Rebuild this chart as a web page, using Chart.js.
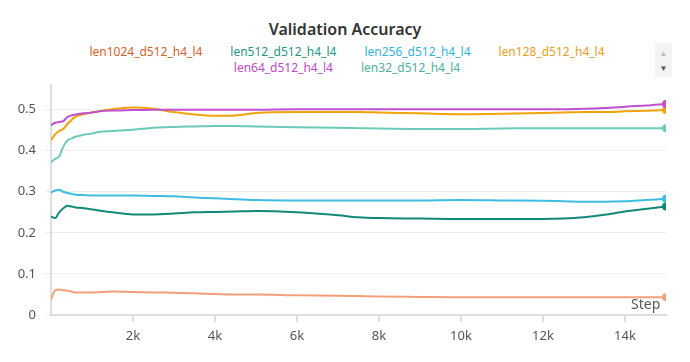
<!DOCTYPE html>
<html>
<head>
<meta charset="utf-8">
<script src="https://cdn.jsdelivr.net/npm/chart.js@4.4.1/dist/chart.umd.min.js"></script>
<style>
  html, body { margin: 0; padding: 0; background: #fff; }
  body { width: 690px; height: 362px; position: relative; overflow: hidden; font-family: "Noto Sans", sans-serif; }
  #title { position: absolute; top: 18px; left: 0; width: 690px; text-align: center; font-size: 16px; font-weight: 600; color: #333; }
  .row { position: absolute; left: 0; width: 694px; text-align: center; font-size: 12px; white-space: nowrap; }
  .row span { display: inline-block; margin: 0 14px; }
  #arrows { position: absolute; left: 655px; top: 43px; width: 17px; height: 34px; background: #f3f3f3; font-size: 8px; text-align: center; line-height: 15px; }
  #step { position: absolute; left: 631px; top: 294px; font-size: 14px; color: #555; }
  canvas { position: absolute; left: 0; top: 0; }
</style>
</head>
<body>
<div id="title">Validation Accuracy</div>
<div class="row" id="legend1" style="top:43px"></div>
<div class="row" id="legend2" style="top:59px"></div>
<div id="arrows"><div style="color:#bbb;padding-top:2px">&#9650;</div><div style="color:#555">&#9660;</div></div>
<canvas id="chart" width="690" height="362"></canvas>
<div id="step">Step</div>
<script>
const steps = [0, 100, 200, 300, 400, 500, 600, 800, 1000, 1200, 1500, 2000, 2500, 3000, 3500, 4000,
  4500, 5000, 6000, 7000, 7500, 8000, 9000, 10000, 11000, 12000, 12500, 13000, 13500, 14000, 14500, 15000];

const len1024 = [0.038, 0.060, 0.062, 0.060, 0.059, 0.057, 0.055, 0.055, 0.055, 0.056, 0.057, 0.056, 0.055, 0.054, 0.053, 0.051,
  0.050, 0.050, 0.048, 0.047, 0.046, 0.045, 0.044, 0.043, 0.043, 0.043, 0.043, 0.043, 0.043, 0.043, 0.043, 0.043];
const len512 = [0.240, 0.236, 0.250, 0.260, 0.266, 0.264, 0.262, 0.260, 0.257, 0.254, 0.250, 0.245, 0.245, 0.247, 0.250, 0.251,
  0.252, 0.253, 0.250, 0.243, 0.238, 0.236, 0.235, 0.234, 0.234, 0.234, 0.235, 0.238, 0.244, 0.252, 0.258, 0.264];
const len256 = [0.298, 0.303, 0.305, 0.300, 0.297, 0.295, 0.293, 0.292, 0.291, 0.291, 0.291, 0.291, 0.290, 0.289, 0.286, 0.284,
  0.282, 0.280, 0.279, 0.279, 0.279, 0.279, 0.279, 0.280, 0.279, 0.278, 0.277, 0.276, 0.276, 0.277, 0.280, 0.283];
const len128 = [0.425, 0.440, 0.448, 0.453, 0.465, 0.475, 0.483, 0.489, 0.493, 0.497, 0.501, 0.505, 0.502, 0.494, 0.488, 0.485,
  0.486, 0.492, 0.494, 0.494, 0.494, 0.493, 0.491, 0.489, 0.490, 0.492, 0.493, 0.494, 0.494, 0.496, 0.497, 0.499];
const len64 = [0.462, 0.468, 0.470, 0.472, 0.482, 0.486, 0.488, 0.491, 0.493, 0.496, 0.498, 0.499, 0.500, 0.500, 0.500, 0.500,
  0.500, 0.500, 0.501, 0.501, 0.501, 0.501, 0.501, 0.501, 0.501, 0.501, 0.501, 0.502, 0.504, 0.507, 0.510, 0.514];
const len32 = [0.372, 0.380, 0.386, 0.410, 0.425, 0.430, 0.434, 0.439, 0.442, 0.446, 0.448, 0.451, 0.456, 0.458, 0.459, 0.460,
  0.460, 0.459, 0.457, 0.456, 0.455, 0.454, 0.453, 0.453, 0.454, 0.455, 0.455, 0.455, 0.455, 0.455, 0.455, 0.455];

const yTicks = [0, 0.1, 0.2, 0.3, 0.4, 0.5];
const xTicks = [2000, 4000, 6000, 8000, 10000, 12000, 14000];

// name, values, line colour, legend text colour
const series = [
  ['len1024_d512_h4_l4', len1024, '#f2a07c', '#d4622c'],
  ['len512_d512_h4_l4', len512, '#11897a', '#1f9684'],
  ['len256_d512_h4_l4', len256, '#3dbde0', '#33b2dc'],
  ['len128_d512_h4_l4', len128, '#f0a30a', '#e89f1c'],
  ['len64_d512_h4_l4', len64, '#c24fcd', '#c049c8'],
  ['len32_d512_h4_l4', len32, '#6ccab8', '#4fb0a0']
];

// html legend, 4 + 2 items like the original
series.forEach((s, i) => {
  const el = document.createElement('span');
  el.textContent = s[0];
  el.style.color = s[3];
  document.getElementById(i < 4 ? 'legend1' : 'legend2').appendChild(el);
});

const last = steps.length - 1;
const datasets = series.map(s => ({
  label: s[0],
  data: steps.map((x, i) => ({ x: x, y: s[1][i] })),
  borderColor: s[2],
  backgroundColor: s[2],
  borderWidth: 2,
  cubicInterpolationMode: 'monotone',
  pointRadius: ctx => ctx.dataIndex === last ? 4 : 0,
  pointBorderWidth: 0,
  fill: false
})).reverse();

new Chart(document.getElementById('chart'), {
  type: 'line',
  data: { datasets: datasets },
  options: {
    responsive: false,
    animation: false,
    layout: { padding: { top: 85, right: 24, left: 0, bottom: 0 } },
    plugins: { legend: { display: false }, tooltip: { enabled: false } },
    scales: {
      x: {
        type: 'linear',
        min: 0,
        max: 15000,
        afterBuildTicks: scale => { scale.ticks = xTicks.map(v => ({ value: v })); },
        afterFit: scale => { scale.height = 47; },
        border: { color: '#dedede', width: 2 },
        grid: { drawOnChartArea: false, color: '#dedede', lineWidth: 2, tickLength: 7 },
        ticks: {
          color: '#555',
          padding: 6,
          maxRotation: 0,
          font: { family: 'Noto Sans', size: 13 },
          callback: v => (v / 1000) + 'k'
        }
      },
      y: {
        min: 0,
        max: 0.56,
        afterBuildTicks: scale => { scale.ticks = yTicks.map(v => ({ value: v })); },
        afterFit: scale => { scale.width = 51; },
        border: { color: '#dedede', width: 2 },
        grid: { color: '#eeeeee', lineWidth: 1, tickLength: 6 },
        ticks: {
          color: '#555',
          padding: 9,
          font: { family: 'Noto Sans', size: 13 },
          callback: v => String(v)
        }
      }
    }
  }
});
</script>
</body>
</html>
